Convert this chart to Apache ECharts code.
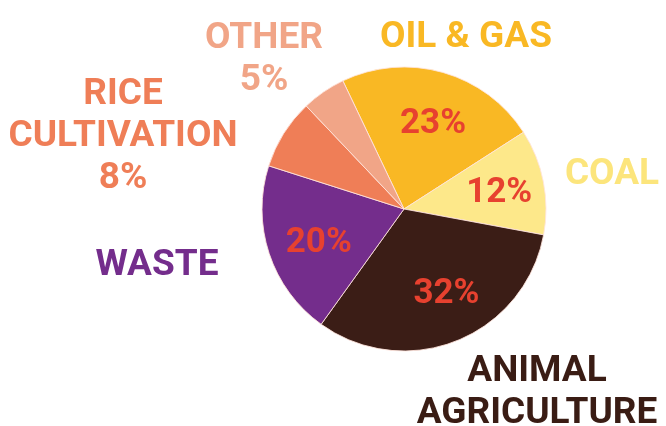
<!DOCTYPE html>
<html>
<head>
<meta charset="utf-8">
<script src="https://cdn.jsdelivr.net/npm/echarts@6/dist/echarts.min.js"></script>
<style>
  html, body { margin: 0; padding: 0; background: #ffffff; }
  #chart { width: 666px; height: 426px; }
</style>
</head>
<body>
<div id="chart"></div>
<script>
// Sources of methane emissions, share of total (%)
const categories = ['OIL & GAS', 'COAL', 'ANIMAL\nAGRICULTURE', 'WASTE', 'RICE\nCULTIVATION', 'OTHER'];
const shares = [23, 12, 32, 20, 8, 5];
const sliceColors = ['#F9B824', '#FDE88A', '#3B1D16', '#742D8C', '#EF7E57', '#F1A587'];
const nameColors = ['#F9B824', '#FCE57C', '#3A1C14', '#742D8C', '#EF7E57', '#F1A587'];

// Where each category name sits around the pie (centre of the text block)
const nameAnchors = [
  [466, 38],
  [612, 175],
  [537, 393],
  [157, 266],
  [123, 137],
  [264, 60]
];
// Small nudges for the percentage labels inside the slices
const pctNudges = [[3, 7], [2, 3], [7, -3], [5, 4], [0, 0], [0, 0]];

const FONT = 'Roboto, "Noto Sans", sans-serif';
const CENTER = [404, 209];
const R = 142;

const sliceData = categories.map((name, i) => ({
  name: name,
  value: shares[i],
  itemStyle: { color: sliceColors[i] },
  label: { color: nameColors[i] }
}));

const chart = echarts.init(document.getElementById('chart'), null, { renderer: 'canvas' });

chart.setOption({
  animation: false,
  backgroundColor: '#ffffff',
  series: [
    {
      // slices with category names outside
      type: 'pie',
      center: CENTER,
      radius: [0, R],
      startAngle: 115.5,
      clockwise: true,
      avoidLabelOverlap: false,
      silent: true,
      itemStyle: { borderColor: 'rgba(255,228,220,0.85)', borderWidth: 1 },
      label: {
        show: true,
        position: 'outside',
        fontFamily: FONT,
        fontWeight: 'bold',
        fontSize: 37,
        lineHeight: 42,
        align: 'center',
        formatter: p => p.value < 10 ? p.name + '\n' + p.value + '%' : p.name
      },
      labelLine: { show: false },
      labelLayout: p => ({
        x: nameAnchors[p.dataIndex][0],
        y: nameAnchors[p.dataIndex][1],
        align: 'center',
        verticalAlign: 'middle'
      }),
      emphasis: { disabled: true },
      data: sliceData
    },
    {
      // transparent ring carrying the percentage labels inside the larger slices
      type: 'pie',
      center: CENTER,
      radius: [42, R],
      startAngle: 115.5,
      clockwise: true,
      silent: true,
      itemStyle: { color: 'rgba(0,0,0,0)', borderWidth: 0 },
      label: {
        show: true,
        position: 'inside',
        color: '#E7412F',
        fontFamily: FONT,
        fontWeight: 'bold',
        fontSize: 35,
        formatter: p => p.value >= 10 ? p.value + '%' : ''
      },
      labelLine: { show: false },
      labelLayout: p => ({
        dx: pctNudges[p.dataIndex][0],
        dy: pctNudges[p.dataIndex][1]
      }),
      emphasis: { disabled: true },
      data: categories.map((name, i) => ({ name: name, value: shares[i] }))
    }
  ]
});
</script>
</body>
</html>
